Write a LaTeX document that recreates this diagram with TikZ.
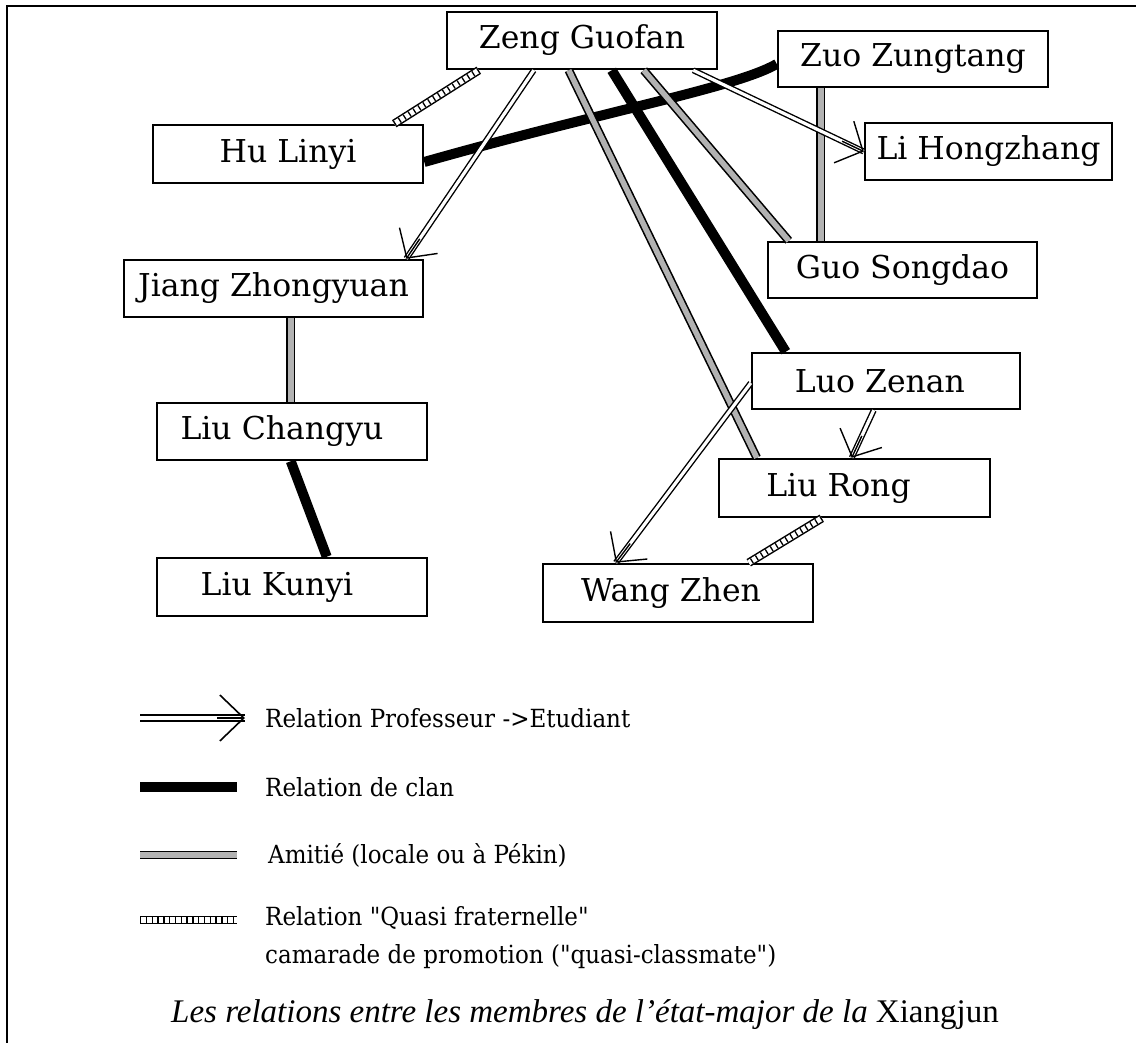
\documentclass[tikz,border=0pt]{standalone}
\usepackage{fontspec}
\setmainfont{Liberation Serif}
\newfontfamily\namefont{DejaVu Serif}
\newfontfamily\legfont[FakeStretch=0.92]{DejaVu Serif}
\usetikzlibrary{arrows.meta,calc}
\tikzset{
 person/.style={draw, line width=2.5pt, minimum width=270pt, minimum height=57pt, inner sep=0pt, font=\namefont\fontsize{31.5}{36}\selectfont},
 clan/.style={line width=10pt, draw=black},
 friend/.style={draw=black, line width=1.6pt, double=gray!60, double distance=5.5pt},
 quasi/.style={line width=8.5pt, draw=black, postaction={draw=white, line width=5.5pt}, postaction={draw=black, line width=5.5pt, dash pattern=on 1.3pt off 4.5pt}},
 prof/.style={draw=black, line width=1.4pt, double=white, double distance=3.2pt},
 profhead/.style={draw=black, line width=1.4pt, -{Straight Barb[length=21pt, width=46pt, line width=1.4pt]}},
 legtext/.style={anchor=west, font=\legfont\fontsize{25}{28}\selectfont, inner sep=0pt},
}
\newcommand\profarrow[2]{%
  \draw[prof] (#1) -- (#2);
  \draw[profhead] ($(#2)!24pt!(#1)$) -- (#2);}
\begin{document}
\begin{tikzpicture}[x=1pt,y=-1pt]
\useasboundingbox (0,0) rectangle (1136,1043);
\draw[line width=2.5pt] (7,1043) -- (7,6) -- (1136,6);

\node[person] (zeng) at (582,40.5) {Zeng Guofan};
\node[person, minimum height=56pt] (zuo) at (913,59) {Zuo Zungtang};
\node[person, minimum width=247pt] (li) at (988.5,151.5) {Li Hongzhang};
\node[person, minimum width=269pt, minimum height=56pt] (guo) at (902.5,270) {Guo Songdao};
\node[person, minimum height=58pt] (hu) at (288,154) {Hu Linyi};
\node[person, minimum width=299pt] (jiang) at (273.5,288.5) {Jiang Zhongyuan};
\node[person] (changyu) at (292,431.5) {Liu Changyu\hspace*{20pt}};
\node[person, minimum height=58pt] (kunyi) at (292,587) {Liu Kunyi\hspace*{30pt}};
\node[person, minimum width=268pt, minimum height=56pt] (luo) at (886,381) {Luo Zenan\hspace*{12pt}};
\node[person, minimum width=271pt, minimum height=58pt] (rong) at (854.5,488) {Liu Rong\hspace*{32pt}};
\node[person, minimum height=58pt] (wang) at (678,593) {Wang Zhen\hspace*{14pt}};

% clan
\draw[clan] ([yshift=-8pt]hu.east) .. controls (600,112) and (735,88) .. ([yshift=-5pt]zuo.west);
\draw[clan] ([xshift=166pt]zeng.south west) -- ([xshift=35pt]luo.north west);
\draw[clan] ([xshift=135pt]changyu.south west) -- ([xshift=171pt]kunyi.north west);
% friendship
\draw[friend] ([xshift=198pt]zeng.south west) -- ([xshift=22pt]guo.north west);
\draw[friend] ([xshift=123pt]zeng.south west) -- ([xshift=39pt]rong.north west);
\draw[friend] ([xshift=44pt]zuo.south west) -- ([xshift=54pt]guo.north west);
\draw[friend] ([xshift=168pt]jiang.south west) -- ([xshift=135pt]changyu.north west);
% quasi
\draw[quasi] ([xshift=33pt]zeng.south west) -- ([xshift=-30pt]hu.north east);
\draw[quasi] ([xshift=104pt]rong.south west) -- ([xshift=207pt]wang.north west);
% professor -> student
\coordinate (p1a) at ([xshift=88pt]zeng.south west);
\coordinate (p1b) at ([xshift=-18pt]jiang.north east);
\coordinate (p2a) at ([xshift=-25pt]zeng.south east);
\coordinate (p2b) at (li.west);
\coordinate (p3a) at ([xshift=123pt]luo.south west);
\coordinate (p3b) at ([xshift=134pt]rong.north west);
\coordinate (p4a) at ([yshift=-2pt]luo.west);
\coordinate (p4b) at ([xshift=74pt]wang.north west);
\profarrow{p1a}{p1b}
\profarrow{p2a}{p2b}
\profarrow{p3a}{p3b}
\profarrow{p4a}{p4b}

% legend
\coordinate (l1a) at (140,718); \coordinate (l1b) at (245,718);
\coordinate (l2a) at (140,787); \coordinate (l2b) at (237,787);
\coordinate (l3a) at (140,855); \coordinate (l3b) at (237,855);
\coordinate (l4a) at (140,920); \coordinate (l4b) at (237,920);
\draw[prof, line width=1.6pt, double distance=4pt] (l1a) -- (l1b);
\draw[profhead, -{Straight Barb[length=24pt, width=46pt, line width=1.6pt]}] ($(l1b)!28pt!(l1a)$) -- (l1b);
\draw[line width=10pt] (l2a) -- (l2b);
\draw[friend] (l3a) -- (l3b);
\draw[quasi] (l4a) -- (l4b);
\node[legtext] (t1) at (265,718) {Relation Professeur ->Etudiant};
\node[legtext] (t2) at (265,787) {Relation de clan};
\node[legtext] (t3) at (268,855) {Amitié (locale ou à Pékin)};
\node[legtext] (t4) at (265,918) {Relation "Quasi fraternelle"};
\node[legtext] (t5) at (265,957) {camarade de promotion ("quasi-classmate")};

\node[font=\fontsize{33}{38}\selectfont] (cap) at (585,1015) {\itshape Les relations entre les membres de l’état-major de la \upshape Xiangjun};
\end{tikzpicture}
\end{document}
